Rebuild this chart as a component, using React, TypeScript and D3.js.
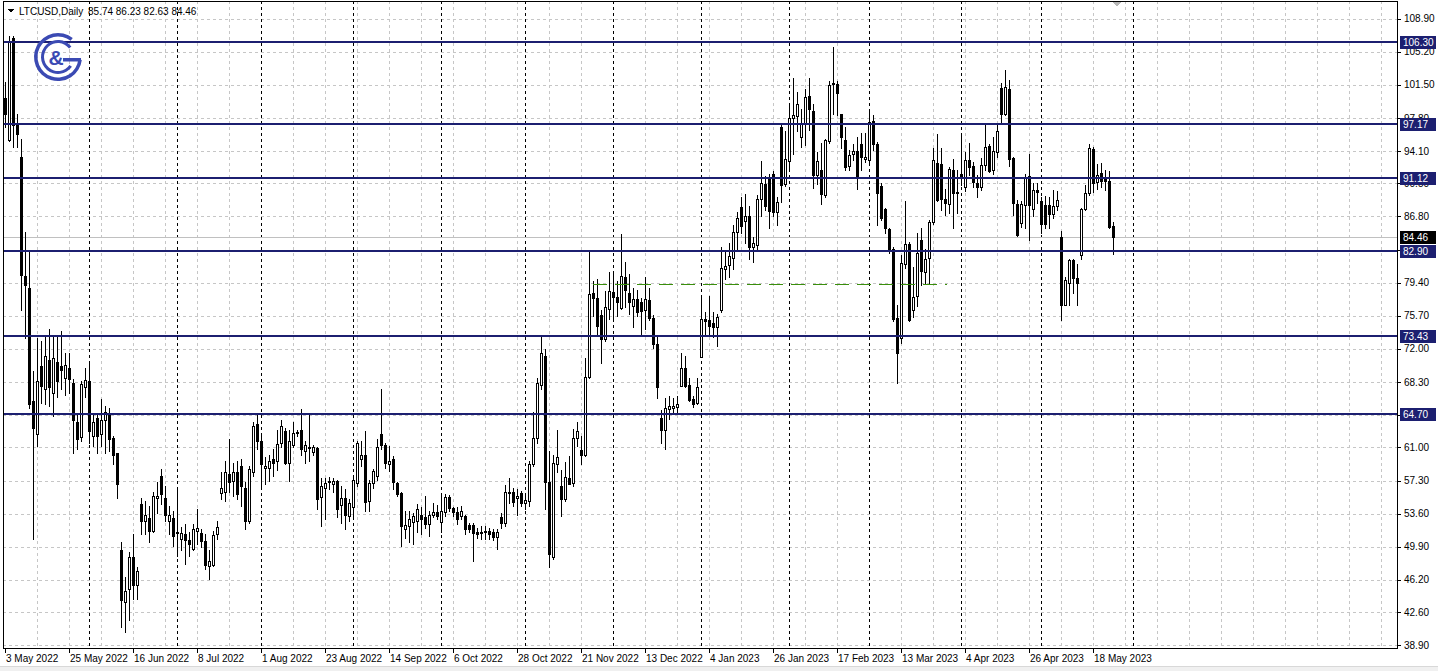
import React from 'react';
import * as d3 from 'd3';

const W = 1438;
const H = 671;

// Daily OHLC, LTCUSD, weekday bars starting 3 May 2022
const opens = [
  100.0, 95.3, 106.7, 97.0, 93.5, 80.1, 78.8, 66.2, 62.5, 70.1,
  67.5, 70.8, 67.1, 70.5, 70.1, 68.7, 69.9, 68.2, 63.8, 62.2,
  67.8, 68.4, 62.3, 64.3, 62.5, 64.1, 64.7, 62.1, 60.4, 49.5,
  43.7, 45.2, 48.8, 45.6, 54.7, 52.8, 53.1, 51.7, 55.3, 57.8,
  55.4, 52.8, 53.1, 51.5, 50.8, 51.3, 50.6, 49.6, 51.7, 51.4,
  50.5, 47.8, 47.9, 51.3, 55.9, 56.0, 58.0, 57.3, 58.2, 58.9,
  56.5, 52.8, 58.2, 63.6, 61.7, 58.7, 58.7, 59.7, 59.5, 61.5,
  62.8, 59.3, 61.3, 62.7, 63.0, 60.6, 61.1, 60.5, 60.9, 55.5,
  56.5, 57.1, 56.9, 57.3, 54.6, 55.4, 53.3, 54.3, 57.0, 59.7,
  60.1, 55.0, 57.0, 57.8, 62.5, 61.3, 59.1, 59.7, 57.0, 55.9,
  51.9, 52.2, 52.7, 52.8, 53.4, 53.2, 52.4, 53.4, 53.8, 52.7,
  53.8, 55.5, 54.2, 53.8, 53.3, 53.3, 52.3, 52.3, 51.6, 51.5,
  51.6, 51.7, 51.6, 51.0, 53.2, 52.6, 56.0, 56.0, 55.4, 55.9,
  54.8, 55.0, 59.1, 62.1, 68.0, 71.2, 57.1, 48.7, 59.2, 56.7,
  55.2, 57.6, 57.0, 62.0, 60.7, 60.2, 68.9, 78.3, 77.7, 75.8,
  73.1, 76.5, 78.4, 77.8, 76.6, 80.0, 78.3, 76.8, 77.6, 77.3,
  76.3, 77.5, 75.5, 72.5, 64.3, 62.9, 65.3, 65.4, 65.5, 67.9,
  69.9, 68.0, 66.4, 66.0, 71.1, 75.3, 75.2, 74.9, 74.4, 76.3,
  80.9, 81.4, 82.2, 85.1, 87.9, 86.3, 86.9, 83.4, 83.6, 88.8,
  90.4, 91.1, 91.5, 87.3, 96.8, 90.4, 93.0, 97.8, 98.0, 95.7,
  97.3, 100.3, 98.6, 91.4, 92.0, 89.2, 95.2, 101.6, 101.6, 98.2,
  95.4, 92.4, 93.8, 94.1, 94.9, 93.2, 93.1, 97.5, 94.9, 90.2,
  87.6, 85.4, 83.2, 75.5, 73.2, 81.5, 83.7, 76.3, 77.9, 84.2,
  80.6, 82.15, 86.2, 92.8, 92.7, 88.7, 88.2, 92.0, 89.5, 91.5,
  90.1, 93.1, 92.4, 90.5, 90.05, 92.5, 94.7, 92.0, 94.0, 101.2,
  98.3, 101.1, 93.3, 88.2, 86.1, 88.1, 91.3, 87.6, 89.8, 88.5,
  88.1, 88.1, 87.1, 88.0, 84.5, 76.9, 79.4, 81.9, 79.9, 82.5,
  87.6, 89.4, 94.3, 90.6, 91.7, 90.95, 90.8, 85.74,
];
const highs = [
  101.8, 107.0, 107.0, 98.3, 95.5, 85.1, 82.9, 69.5, 73.2, 72.9,
  73.6, 74.2, 73.4, 73.4, 74.0, 71.6, 71.6, 68.6, 64.7, 68.4,
  69.9, 70.5, 64.7, 64.7, 66.4, 65.6, 65.4, 62.3, 60.4, 50.4,
  46.5, 49.3, 51.3, 47.6, 55.4, 55.0, 54.5, 56.0, 57.1, 58.6,
  56.7, 54.5, 53.9, 56.5, 52.1, 52.4, 51.5, 52.4, 54.1, 51.9,
  51.3, 49.5, 51.7, 52.8, 58.2, 59.5, 61.9, 59.3, 59.5, 59.7,
  57.1, 58.9, 63.8, 64.7, 62.5, 59.9, 60.2, 60.8, 63.0, 64.1,
  63.2, 63.0, 63.8, 62.9, 65.3, 61.7, 64.7, 61.3, 61.0, 57.6,
  57.6, 57.7, 57.6, 57.4, 56.7, 56.3, 55.2, 57.6, 61.7, 61.7,
  62.8, 57.4, 58.6, 61.9, 67.5, 61.5, 61.2, 60.0, 57.1, 56.0,
  53.9, 53.9, 53.7, 54.7, 54.3, 55.6, 53.9, 54.8, 54.6, 55.8,
  55.8, 55.7, 54.3, 54.3, 54.5, 53.5, 52.6, 52.5, 52.0, 52.2,
  52.2, 52.0, 51.9, 51.9, 53.7, 56.8, 57.6, 56.5, 56.3, 56.1,
  55.9, 59.5, 64.9, 68.8, 73.3, 72.0, 60.6, 60.2, 63.0, 58.5,
  59.4, 60.0, 63.1, 63.8, 62.3, 70.95, 82.9, 79.6, 79.8, 76.3,
  78.5, 80.6, 80.4, 79.6, 84.8, 81.7, 80.4, 78.8, 78.6, 77.7,
  80.0, 78.8, 75.8, 73.5, 65.2, 66.5, 66.7, 66.5, 66.7, 71.5,
  71.2, 68.7, 66.7, 68.7, 77.7, 76.1, 77.9, 76.1, 75.9, 83.4,
  82.9, 83.8, 85.9, 87.3, 89.0, 89.3, 88.0, 84.5, 89.2, 93.0,
  91.3, 91.5, 91.9, 89.0, 97.3, 96.3, 99.2, 102.3, 100.7, 98.8,
  101.1, 102.3, 99.4, 94.0, 95.0, 95.5, 101.9, 105.7, 101.9, 98.3,
  96.8, 94.2, 94.9, 95.7, 96.1, 96.1, 98.5, 98.1, 95.1, 90.5,
  87.7, 85.5, 83.4, 76.9, 82.5, 88.5, 84.0, 81.2, 84.9, 85.5,
  83.2, 86.4, 94.5, 96.0, 94.4, 89.9, 92.3, 93.2, 92.0, 95.9,
  94.0, 95.0, 92.9, 91.4, 93.3, 97.0, 94.9, 95.7, 97.2, 101.7,
  103.2, 102.0, 93.5, 88.6, 88.5, 91.6, 93.8, 90.5, 90.5, 89.0,
  89.1, 89.0, 89.8, 89.7, 85.2, 80.0, 82.0, 82.0, 81.5, 87.8,
  90.3, 94.9, 94.6, 92.7, 92.8, 92.0, 91.9, 86.23,
];
const lows = [
  96.8, 95.2, 94.6, 94.6, 76.4, 73.2, 65.4, 50.8, 61.2, 66.0,
  65.8, 65.6, 64.5, 66.6, 67.5, 66.9, 67.1, 60.4, 60.8, 61.7,
  66.6, 61.5, 61.2, 60.4, 61.2, 60.4, 60.6, 59.1, 55.4, 40.9,
  40.4, 41.7, 44.1, 44.1, 51.3, 51.3, 50.4, 51.5, 53.7, 54.7,
  52.8, 51.3, 50.0, 48.9, 49.5, 48.0, 48.9, 49.5, 50.2, 49.9,
  47.4, 46.3, 47.8, 50.8, 55.2, 55.0, 56.0, 55.6, 55.2, 54.5,
  51.9, 52.6, 57.8, 60.8, 56.7, 56.9, 57.3, 57.8, 58.5, 61.0,
  59.1, 57.3, 61.0, 62.3, 60.2, 59.3, 59.5, 60.2, 54.1, 52.2,
  53.0, 56.3, 56.0, 53.2, 52.6, 51.9, 52.8, 53.0, 56.7, 58.9,
  53.9, 53.9, 56.5, 57.4, 60.8, 58.7, 58.4, 56.3, 55.6, 50.0,
  50.9, 50.4, 50.2, 51.5, 51.3, 52.0, 51.1, 53.2, 53.0, 51.5,
  53.3, 53.9, 53.3, 52.4, 53.0, 51.3, 51.5, 48.3, 50.9, 50.8,
  50.8, 50.8, 50.7, 49.6, 52.0, 52.2, 54.8, 54.5, 53.5, 54.5,
  54.1, 54.5, 58.9, 61.5, 67.5, 54.1, 47.6, 48.5, 58.3, 53.3,
  55.0, 56.9, 56.7, 61.2, 59.1, 60.0, 68.8, 75.7, 73.5, 70.4,
  72.9, 75.4, 75.4, 75.7, 76.5, 76.7, 75.9, 74.4, 75.7, 73.5,
  74.2, 75.2, 72.1, 66.5, 61.5, 60.8, 64.2, 64.8, 65.0, 67.9,
  67.7, 66.2, 65.5, 65.8, 71.1, 73.5, 73.5, 73.3, 72.3, 76.1,
  79.8, 80.0, 80.9, 83.1, 85.0, 83.8, 82.1, 81.7, 82.9, 86.9,
  87.5, 85.5, 86.9, 85.8, 88.4, 90.2, 92.2, 93.8, 96.3, 94.6,
  94.8, 96.5, 90.0, 90.4, 88.2, 89.0, 95.0, 98.2, 98.1, 94.4,
  92.0, 92.0, 93.1, 89.9, 92.0, 92.9, 92.9, 94.2, 85.9, 86.4,
  84.9, 82.7, 75.1, 68.2, 72.7, 81.0, 75.1, 75.6, 76.8, 79.2,
  79.4, 79.4, 86.0, 88.5, 87.5, 87.0, 87.2, 85.5, 87.2, 90.3,
  89.6, 91.4, 90.1, 89.0, 89.8, 92.0, 91.8, 91.6, 93.5, 97.2,
  98.1, 92.4, 87.0, 84.6, 85.6, 85.5, 84.2, 86.8, 88.3, 84.9,
  85.5, 85.5, 86.6, 87.5, 75.2, 76.9, 76.9, 78.2, 76.9, 82.0,
  87.5, 89.2, 89.5, 89.9, 90.1, 89.8, 85.5, 82.63,
];
const closes = [
  98.2, 106.3, 97.0, 96.0, 80.3, 79.2, 65.8, 63.2, 68.4, 67.9,
  71.2, 67.8, 71.0, 68.4, 69.6, 70.2, 68.6, 64.1, 61.9, 68.1,
  68.5, 62.8, 63.8, 62.3, 64.1, 64.9, 61.9, 60.2, 56.9, 43.9,
  45.0, 48.7, 45.6, 47.2, 52.8, 53.4, 51.7, 55.6, 55.6, 55.8,
  53.4, 53.5, 51.1, 51.4, 51.4, 50.6, 50.2, 51.9, 52.0, 50.5,
  47.9, 48.3, 51.2, 52.1, 56.5, 58.3, 57.1, 58.2, 55.8, 56.7,
  52.8, 58.6, 63.4, 61.7, 59.1, 58.9, 59.5, 59.3, 61.4, 63.4,
  59.3, 61.7, 62.6, 62.6, 60.8, 61.3, 60.9, 61.1, 55.2, 56.7,
  57.0, 57.3, 57.2, 54.1, 55.4, 53.5, 54.8, 57.4, 61.5, 60.2,
  54.9, 57.0, 58.4, 61.0, 61.3, 59.3, 59.5, 57.1, 55.8, 52.2,
  52.3, 53.0, 53.3, 54.1, 53.0, 52.4, 53.5, 53.8, 53.3, 53.9,
  55.5, 54.2, 53.8, 53.0, 53.9, 51.9, 51.9, 51.4, 51.3, 51.6,
  51.7, 51.3, 51.0, 51.6, 52.5, 56.0, 56.05, 54.9, 55.6, 54.8,
  55.1, 59.1, 62.1, 68.2, 71.5, 57.1, 49.1, 59.3, 59.9, 55.2,
  57.7, 56.9, 62.1, 62.8, 60.2, 68.9, 78.1, 77.7, 74.6, 73.1,
  76.7, 78.5, 77.8, 77.2, 80.1, 78.6, 77.3, 77.6, 76.1, 76.2,
  77.6, 75.5, 72.5, 67.7, 62.9, 65.4, 65.6, 65.6, 65.8, 69.9,
  67.9, 66.3, 65.8, 67.8, 75.4, 75.1, 74.6, 74.4, 75.6, 81.1,
  81.3, 82.4, 85.1, 86.6, 85.7, 86.9, 83.4, 83.8, 88.8, 90.5,
  88.0, 87.4, 87.3, 88.4, 90.3, 93.2, 97.8, 98.1, 99.4, 97.3,
  100.1, 98.8, 91.4, 93.0, 89.3, 95.3, 101.5, 101.7, 100.6, 95.7,
  92.3, 93.7, 94.1, 91.05, 93.5, 93.5, 97.4, 94.9, 89.4, 86.6,
  85.5, 82.9, 75.3, 71.6, 81.6, 83.7, 75.2, 77.8, 82.7, 80.7,
  82.0, 86.2, 93.1, 88.6, 88.7, 88.3, 92.1, 89.4, 89.4, 91.35,
  93.1, 92.3, 90.6, 90.05, 92.5, 94.6, 91.9, 94.1, 96.4, 98.3,
  101.3, 93.2, 88.3, 84.7, 88.2, 91.2, 88.1, 89.8, 89.5, 86.0,
  86.0, 87.1, 88.0, 88.6, 76.9, 79.7, 81.9, 79.9, 79.4, 87.6,
  89.4, 94.4, 90.5, 91.4, 90.8, 90.8, 85.6, 84.46,
];

const firstBarDate = '2022-05-03';
const priceTickLabels = [
  '108.90', '105.20', '101.50', '97.80', '94.10', '90.50', '86.80', '83.10', '79.40', '75.70',
  '72.00', '68.30', '64.60', '61.00', '57.30', '53.60', '49.90', '46.20', '42.60', '38.90',
];
const dateTickLabels = [
  '3 May 2022', '25 May 2022', '16 Jun 2022', '8 Jul 2022', '1 Aug 2022', '23 Aug 2022',
  '14 Sep 2022', '6 Oct 2022', '28 Oct 2022', '21 Nov 2022', '13 Dec 2022', '4 Jan 2023',
  '26 Jan 2023', '17 Feb 2023', '13 Mar 2023', '4 Apr 2023', '26 Apr 2023', '18 May 2023',
];
const dateTickEvery = 16;
const levelValues = [106.3, 97.17, 91.12, 82.9, 73.43, 64.7];
const levelLabels = ['106.30', '97.17', '91.12', '82.90', '73.43', '64.70'];
const lastPrice = 84.46;
const lastPriceLabel = '84.46';
const greenLevel = 79.3;
const greenFromBar = 147;
const greenToBar = 235.5;
const headerSymbol = 'LTCUSD,Daily';
const headerValues = '85.74 86.23 82.63 84.46';

const NAVY = '#1c1f70';
const LOGO = '#3b4ab3';
const FONT = '"Liberation Sans", Arial, sans-serif';

function tradingDays(start: string, n: number): Date[] {
  const out: Date[] = [];
  const d = new Date(start + 'T12:00:00Z');
  while (out.length < n) {
    const wd = d.getUTCDay();
    if (wd !== 0 && wd !== 6) out.push(new Date(d.getTime()));
    d.setUTCDate(d.getUTCDate() + 1);
  }
  return out;
}

const deg = Math.PI / 180;

export default function App() {
  const n = opens.length;
  const plotLeft = 3;
  const plotRight = 1397;
  const plotTop = 1;
  const plotBottom = 648;

  const x = d3.scaleLinear().domain([0, n - 1]).range([5, 5 + 4 * (n - 1)]);
  const y = d3.scaleLinear().domain([38.9, 108.9]).range([645.2, 18.7]);
  const cy = (v: number) => Math.round(y(v)) + 0.5;

  const days = tradingDays(firstBarDate, n + 10);
  const separators: number[] = [];
  for (let i = 1; i < days.length; i++) {
    if (days[i].getUTCMonth() !== days[i - 1].getUTCMonth()) separators.push(i);
  }

  const gridX: number[] = d3.range(1, 44).map((k) => k * 8);

  const bars = d3.range(n).map((i) => ({ i, o: opens[i], h: highs[i], l: lows[i], c: closes[i] }));

  const arc = d3.arc();
  const outerRing = arc({ innerRadius: 20.5, outerRadius: 24, startAngle: 97 * deg, endAngle: 398 * deg } as any) || '';
  const innerRing = arc({ innerRadius: 14, outerRadius: 17, startAngle: 125 * deg, endAngle: 412 * deg } as any) || '';

  return (
    <div style={{ position: 'absolute', left: 0, top: 0 }}>
      <svg width={W} height={H} style={{ display: 'block', background: '#fff' }} shapeRendering="crispEdges">
        <rect x={0} y={0} width={W} height={H} fill="#ffffff" />
        {/* horizontal grid */}
        {priceTickLabels.map((t) => (
          <line key={'gh' + t} x1={plotLeft} x2={plotRight} y1={cy(+t)} y2={cy(+t)} stroke="#c6c6c6" strokeDasharray="3,3" />
        ))}
        {/* vertical grid */}
        {gridX.map((i) => (
          <line key={'gv' + i} x1={x(i) + 0.5} x2={x(i) + 0.5} y1={plotTop} y2={plotBottom} stroke="#c6c6c6" strokeDasharray="3,3" />
        ))}
        {/* month separators */}
        {separators.map((i) => (
          <line key={'sep' + i} x1={x(i) + 0.5} x2={x(i) + 0.5} y1={plotTop} y2={plotBottom} stroke="#000" strokeDasharray="3,3" />
        ))}
        {/* last price line */}
        <line x1={plotLeft} x2={plotRight} y1={cy(lastPrice)} y2={cy(lastPrice)} stroke="#c0c0c0" />
        {/* candles */}
        {bars.map((b) => {
          const cx = x(b.i);
          const top = Math.round(y(Math.max(b.o, b.c)));
          const bot = Math.round(y(Math.min(b.o, b.c)));
          const up = b.c >= b.o;
          return (
            <g key={'c' + b.i}>
              <line x1={cx + 0.5} x2={cx + 0.5} y1={Math.round(y(b.h))} y2={Math.round(y(b.l)) + 1} stroke="#000" />
              {up ? (
                <rect x={cx - 0.5} y={top + 0.5} width={2} height={Math.max(bot - top, 1)} fill="#fff" stroke="#000" />
              ) : (
                <rect x={cx - 1} y={top} width={3} height={Math.max(bot - top + 1, 1)} fill="#000" />
              )}
            </g>
          );
        })}
        {/* green dashed level */}
        <line x1={x(greenFromBar)} x2={x(greenToBar)} y1={cy(greenLevel)} y2={cy(greenLevel)} stroke="#3a8f0c" strokeDasharray="14,8" />
        {/* horizontal levels */}
        {levelValues.map((v, k) => (
          <line key={'lv' + k} x1={plotLeft} x2={plotRight} y1={Math.round(y(v))} y2={Math.round(y(v))} stroke={NAVY} strokeWidth={2} />
        ))}
        {/* frame */}
        <rect x={plotLeft + 0.5} y={plotTop + 0.5} width={plotRight - plotLeft} height={plotBottom - plotTop} fill="none" stroke="#000" />
        {/* price axis */}
        {priceTickLabels.map((t) => (
          <g key={'pt' + t}>
            <line x1={plotRight} x2={plotRight + 4} y1={cy(+t)} y2={cy(+t)} stroke="#000" />
            <text x={1404} y={y(+t) + 3.5} fontFamily={FONT} fontSize={10} fill="#000">{t}</text>
          </g>
        ))}
        {/* level labels */}
        {levelValues.map((v, k) => (
          <g key={'ll' + k}>
            <rect x={1400} y={Math.round(y(v)) - 6} width={36} height={13} fill={NAVY} />
            <text x={1403} y={y(v) + 4} fontFamily={FONT} fontSize={10} fill="#fff">{levelLabels[k]}</text>
          </g>
        ))}
        <rect x={1400} y={Math.round(y(lastPrice)) - 6} width={36} height={13} fill="#000" />
        <text x={1403} y={y(lastPrice) + 4} fontFamily={FONT} fontSize={10} fill="#fff">{lastPriceLabel}</text>
        {/* time axis */}
        {dateTickLabels.map((t, k) => {
          const px = x(k * dateTickEvery);
          return (
            <g key={'dt' + k}>
              <line x1={px + 0.5} x2={px + 0.5} y1={plotBottom} y2={plotBottom + 5} stroke="#000" />
              <text x={px + 1} y={662} fontFamily={FONT} fontSize={10} fill="#000">{t}</text>
            </g>
          );
        })}
        {/* window bottom strip */}
        <rect x={0} y={667} width={W} height={4} fill="#f0f0f0" />
        <line x1={0} x2={W} y1={666.5} y2={666.5} stroke="#d8d8d8" />
        {/* shift marker */}
        <path d="M1113,2 L1121,2 L1117,7 Z" fill="#b8b8b8" />
        {/* header */}
        <path d="M8,9 L14,9 L11,13 Z" fill="#000" />
        <text x={19} y={15} fontFamily={FONT} fontSize={10} fill="#000">{headerSymbol}</text>
        <text x={88} y={15} fontFamily={FONT} fontSize={10} fill="#000">{headerValues}</text>
        {/* logo */}
        <g shapeRendering="geometricPrecision" transform="translate(58,57)">
          <path d={outerRing} fill={LOGO} />
          <path d={innerRing} fill={LOGO} />
          <rect x={5} y={1} width={18} height={3.5} fill={LOGO} />
          <text x={-2} y={8} textAnchor="middle" fontFamily={FONT} fontWeight="bold" fontSize={21} fill={LOGO}>&amp;</text>
        </g>
      </svg>
    </div>
  );
}
